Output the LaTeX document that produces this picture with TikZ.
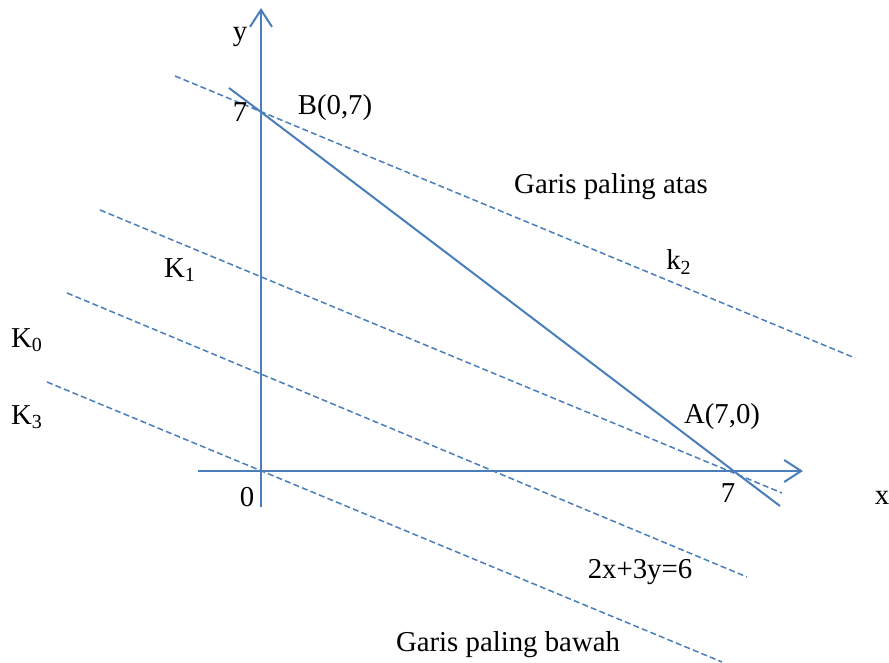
\documentclass[tikz,border=0pt]{standalone}
\usepackage{fontspec}
\setmainfont{Liberation Serif}
\usetikzlibrary{arrows.meta}
\definecolor{lineblue}{HTML}{4A7EBB}
\tikzset{axis/.style={draw=lineblue,line width=1pt,-{Straight Barb[length=8.5pt,width=11pt,line width=1pt]}},
  edge/.style={draw=lineblue,line width=1pt},
  level/.style={draw=lineblue,line width=0.75pt,dash pattern=on 3pt off 1.6pt},
  lab/.style={font=\fontsize{14.4}{17}\selectfont,inner sep=0pt}}
\begin{document}
\begin{tikzpicture}[x=0.5pt,y=0.5pt]
  \useasboundingbox (0,0) rectangle (889,663);
  % axes
  \coordinate (O) at (261,192);
  \coordinate (ybot) at (261,156);
  \coordinate (ytop) at (261,655);
  \coordinate (xleft) at (198,192);
  \coordinate (xright) at (803,192);
  \draw[axis] (ybot) -- (ytop);
  \draw[axis] (xleft) -- (xright);
  % constraint line through B and A
  \coordinate (B) at (261,551);
  \coordinate (A) at (735,191);
  \coordinate (cstart) at (229,575);
  \coordinate (cend) at (780,157);
  \draw[edge] (cstart) -- (B) -- (A) -- (cend);
  % level lines
  \coordinate (k2a) at (175,587);
  \coordinate (k2b) at (855,305);
  \coordinate (k1a) at (100,453);
  \coordinate (k1b) at (782,170);
  \coordinate (k0a) at (67,370);
  \coordinate (k0b) at (747,86);
  \coordinate (k3a) at (47,281);
  \coordinate (k3b) at (722,1);
  \draw[level] (k2a) -- (k2b);
  \draw[level] (k1a) -- (k1b);
  \draw[level] (k0a) -- (k0b);
  \draw[level] (k3a) -- (k3b);
  % labels
  \node[lab] (ylab) at (240,626) {y};
  \node[lab] (yseven) at (240,551) {7};
  \node[lab] (Blab) at (335,555) {B(0,7)};
  \node[lab] (top) at (611,476) {Garis paling atas};
  \node[lab] (K1) at (180,393) {K\textsubscript{1}};
  \node[lab] (k2) at (679,401) {k\textsubscript{2}};
  \node[lab] (K0) at (27,323) {K\textsubscript{0}};
  \node[lab] (K3) at (27,246) {K\textsubscript{3}};
  \node[lab] (Alab) at (722,246) {A(7,0)};
  \node[lab] (zero) at (247,166) {0};
  \node[lab] (xseven) at (728,170) {7};
  \node[lab] (xlab) at (882,165) {x};
  \node[lab] (eq) at (640,91) {2x+3y=6};
  \node[lab] (bottom) at (508,18) {Garis paling bawah};
\end{tikzpicture}
\end{document}
